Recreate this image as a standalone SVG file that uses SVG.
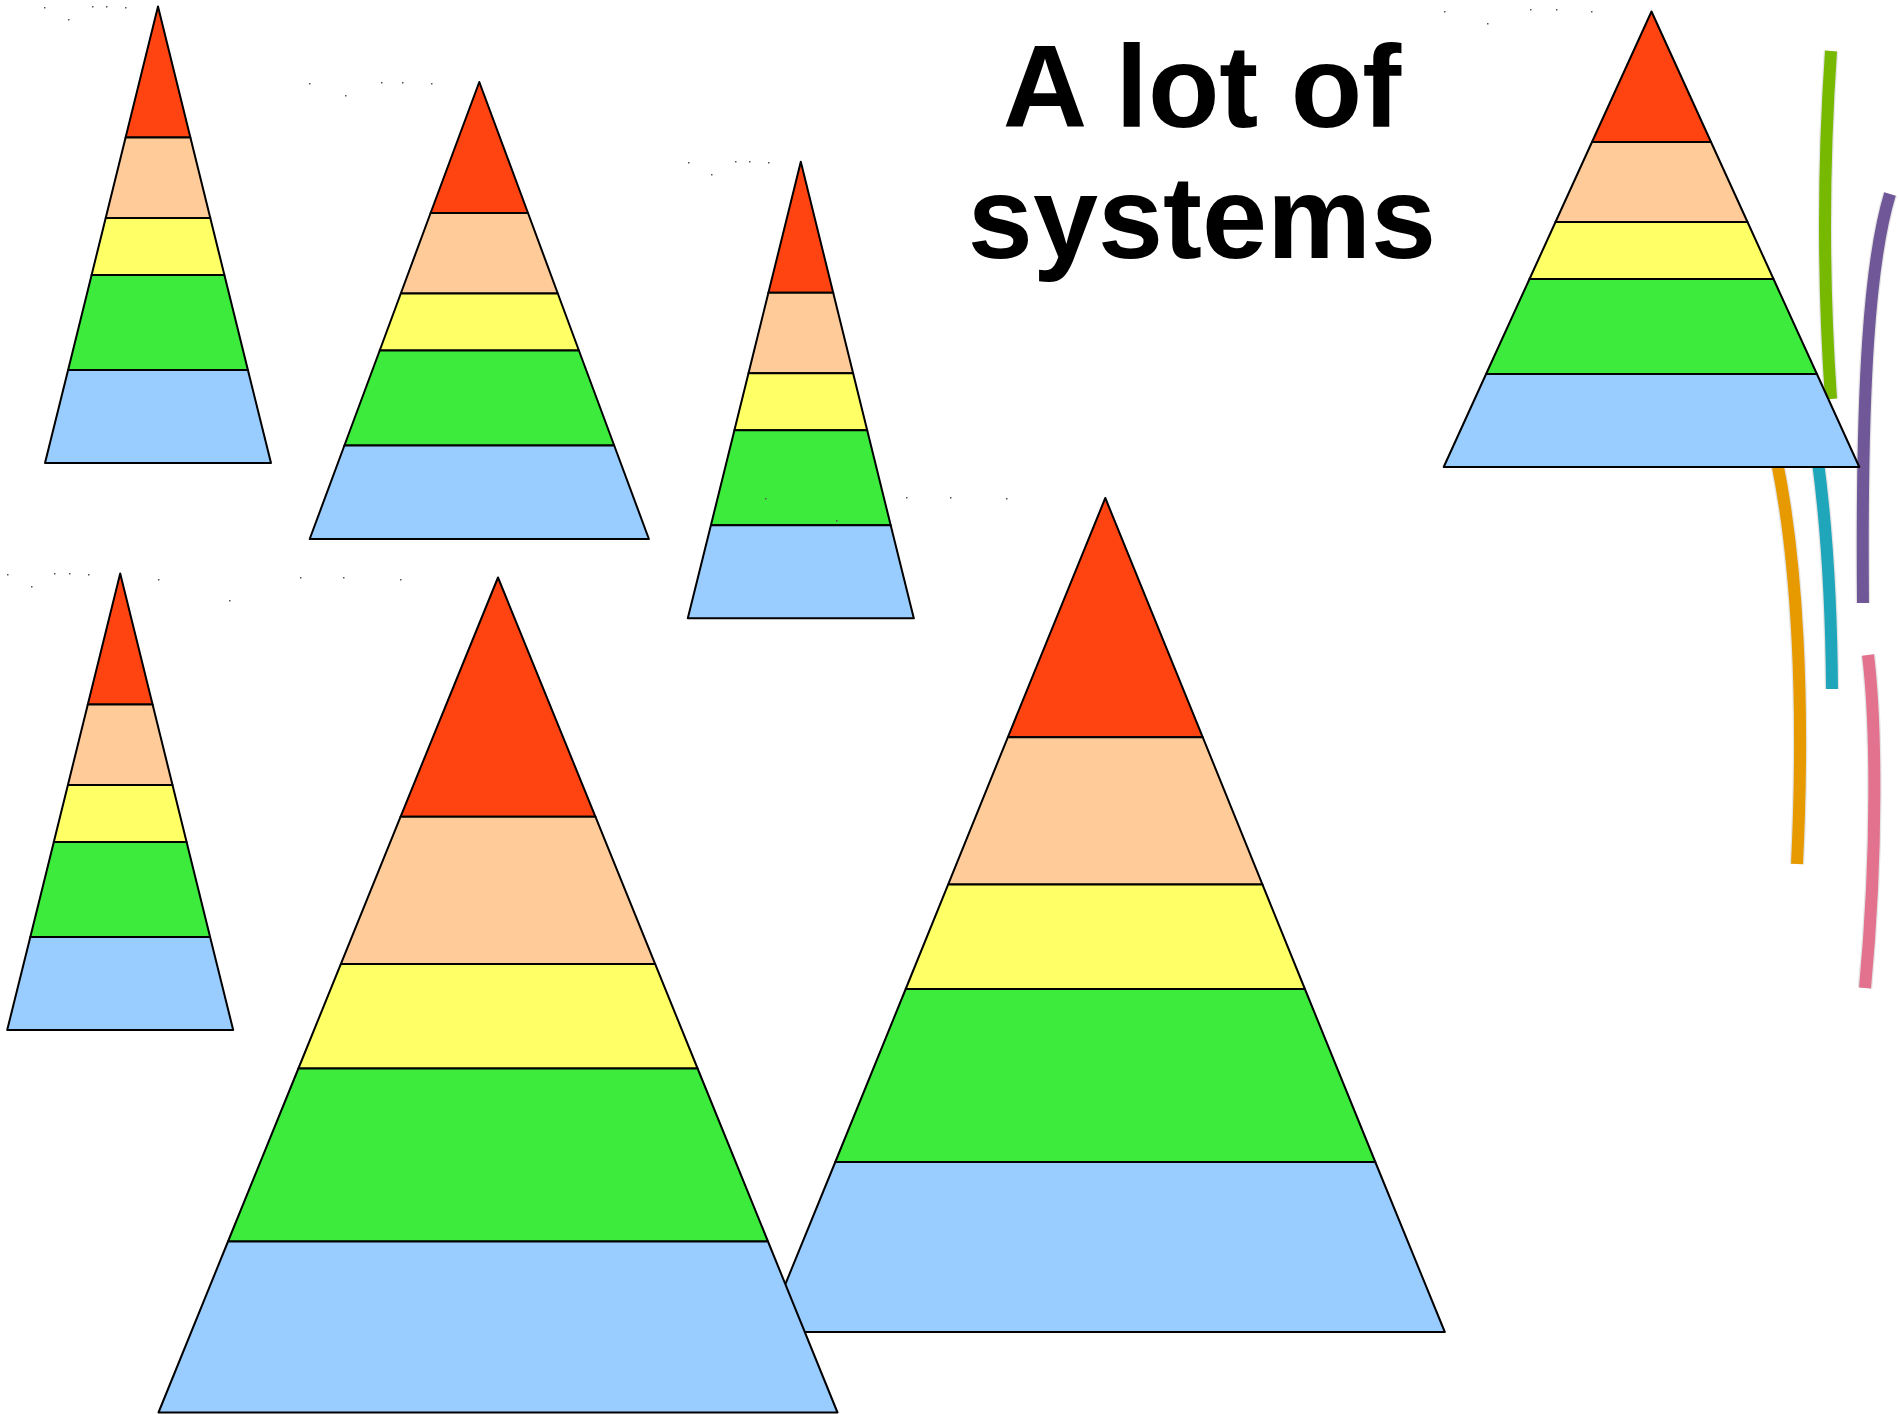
<svg xmlns="http://www.w3.org/2000/svg" width="1898" height="1414" viewBox="0 0 1898 1414">
<style>
.band{stroke:#000;stroke-width:2;stroke-linejoin:round}
.r{fill:#FF4411}.p{fill:#FFCC99}.y{fill:#FFFF66}.g{fill:#3DEB3D}.b{fill:#99CCFF}
.halo{fill:none;stroke:#e4e4e4;stroke-width:14.5}
.arc{fill:none;stroke-width:12}
.title{font-family:"Liberation Sans",Arial,sans-serif;font-weight:bold;font-size:117px;fill:#000;text-anchor:middle}
.speck{fill:#555}
</style>
<rect width="1898" height="1414" fill="#fff"/>

<g id="arcs">
<path class="halo" d="M1831,51 Q1819,225 1831,399"/>
<path class="arc" stroke="#76B900" d="M1831,51 Q1819,225 1831,399"/>
<path class="halo" d="M1890,194 C1870,260 1861,380 1863,603"/>
<path class="arc" stroke="#705898" d="M1890,194 C1870,260 1861,380 1863,603"/>
<path class="halo" d="M1777,462 C1797,560 1805,700 1797,864"/>
<path class="arc" stroke="#E69A00" d="M1777,462 C1797,560 1805,700 1797,864"/>
<path class="halo" d="M1818,462 Q1831,560 1832,689"/>
<path class="arc" stroke="#1FA6BA" d="M1818,462 Q1831,560 1832,689"/>
<path class="halo" d="M1868,655 C1876,720 1878,850 1865,988"/>
<path class="arc" stroke="#E3728E" d="M1868,655 C1876,720 1878,850 1865,988"/>
</g>

<g id="pyramid-1" transform="translate(158,6.5)">
<polygon class="band r" points="0,0 32.4,131 -32.4,131"/>
<polygon class="band p" points="-32.4,131 32.4,131 52.3,211.5 -52.3,211.5"/>
<polygon class="band y" points="-52.3,211.5 52.3,211.5 66.4,268.5 -66.4,268.5"/>
<polygon class="band g" points="-66.4,268.5 66.4,268.5 89.9,363.5 -89.9,363.5"/>
<polygon class="band b" points="-89.9,363.5 89.9,363.5 113,456.5 -113,456.5"/>
</g>

<g id="pyramid-2" transform="translate(479.3,82)">
<polygon class="band r" points="0,0 48.7,131 -48.7,131"/>
<polygon class="band p" points="-48.7,131 48.7,131 78.5,211.5 -78.5,211.5"/>
<polygon class="band y" points="-78.5,211.5 78.5,211.5 99.6,268.5 -99.6,268.5"/>
<polygon class="band g" points="-99.6,268.5 99.6,268.5 134.9,363.5 -134.9,363.5"/>
<polygon class="band b" points="-134.9,363.5 134.9,363.5 169.6,457 -169.6,457"/>
</g>

<g id="pyramid-3" transform="translate(800.8,161.8)">
<polygon class="band r" points="0,0 32.4,131 -32.4,131"/>
<polygon class="band p" points="-32.4,131 32.4,131 52.3,211.5 -52.3,211.5"/>
<polygon class="band y" points="-52.3,211.5 52.3,211.5 66.4,268.5 -66.4,268.5"/>
<polygon class="band g" points="-66.4,268.5 66.4,268.5 89.9,363.5 -89.9,363.5"/>
<polygon class="band b" points="-89.9,363.5 89.9,363.5 113,456.5 -113,456.5"/>
</g>

<g id="pyramid-6" transform="translate(1651.5,11.5)">
<polygon class="band r" points="0,0 59.5,130.5 -59.5,130.5"/>
<polygon class="band p" points="-59.5,130.5 59.5,130.5 96,210.5 -96,210.5"/>
<polygon class="band y" points="-96,210.5 96,210.5 122,267.5 -122,267.5"/>
<polygon class="band g" points="-122,267.5 122,267.5 165.4,362.5 -165.4,362.5"/>
<polygon class="band b" points="-165.4,362.5 165.4,362.5 207.8,455.5 -207.8,455.5"/>
</g>

<g id="pyramid-5" transform="translate(120.2,573.5)">
<polygon class="band r" points="0,0 32.4,131 -32.4,131"/>
<polygon class="band p" points="-32.4,131 32.4,131 52.3,211.5 -52.3,211.5"/>
<polygon class="band y" points="-52.3,211.5 52.3,211.5 66.4,268.5 -66.4,268.5"/>
<polygon class="band g" points="-66.4,268.5 66.4,268.5 89.9,363.5 -89.9,363.5"/>
<polygon class="band b" points="-89.9,363.5 89.9,363.5 113,456.5 -113,456.5"/>
</g>

<g id="pyramid-7" transform="translate(1105.3,498)">
<polygon class="band r" points="0,0 97.5,239.3 -97.5,239.3"/>
<polygon class="band p" points="-97.5,239.3 97.5,239.3 157.2,386.6 -157.2,386.6"/>
<polygon class="band y" points="-157.2,386.6 157.2,386.6 199.6,491 -199.6,491"/>
<polygon class="band g" points="-199.6,491 199.6,491 270,664 -270,664"/>
<polygon class="band b" points="-270,664 270,664 339.5,834 -339.5,834"/>
</g>

<g id="pyramid-4" transform="translate(498,577.5)">
<polygon class="band r" points="0,0 97.5,239.3 -97.5,239.3"/>
<polygon class="band p" points="-97.5,239.3 97.5,239.3 157.2,386.6 -157.2,386.6"/>
<polygon class="band y" points="-157.2,386.6 157.2,386.6 199.6,491 -199.6,491"/>
<polygon class="band g" points="-199.6,491 199.6,491 270,664 -270,664"/>
<polygon class="band b" points="-270,664 270,664 339.5,835 -339.5,835"/>
</g>

<g id="title">
<text class="title" x="1202" y="127">A lot of</text>
<text class="title" x="1202" y="258">systems</text>
</g>

<g id="specks" class="speck">
<rect x="44" y="7" width="1.5" height="1.5"/><rect x="68" y="19" width="1.5" height="1.5"/><rect x="92" y="6" width="1.5" height="1.5"/><rect x="106" y="6" width="1.5" height="1.5"/><rect x="125" y="7" width="1.5" height="1.5"/>
<rect x="309" y="83" width="1.5" height="1.5"/><rect x="345" y="95" width="1.5" height="1.5"/><rect x="381" y="82" width="1.5" height="1.5"/><rect x="402" y="82" width="1.5" height="1.5"/><rect x="431" y="83" width="1.5" height="1.5"/>
<rect x="688" y="162" width="1.5" height="1.5"/><rect x="711" y="174" width="1.5" height="1.5"/><rect x="735" y="161" width="1.5" height="1.5"/><rect x="749" y="161" width="1.5" height="1.5"/><rect x="768" y="162" width="1.5" height="1.5"/>
<rect x="1444" y="11" width="1.5" height="1.5"/><rect x="1487" y="23" width="1.5" height="1.5"/><rect x="1530" y="9" width="1.5" height="1.5"/><rect x="1556" y="9" width="1.5" height="1.5"/><rect x="1591" y="11" width="1.5" height="1.5"/>
<rect x="7" y="574" width="1.5" height="1.5"/><rect x="31" y="586" width="1.5" height="1.5"/><rect x="54" y="573" width="1.5" height="1.5"/><rect x="69" y="573" width="1.5" height="1.5"/><rect x="88" y="574" width="1.5" height="1.5"/>
<rect x="158" y="579" width="1.5" height="1.5"/><rect x="229" y="600" width="1.5" height="1.5"/><rect x="300" y="577" width="1.5" height="1.5"/><rect x="343" y="577" width="1.5" height="1.5"/><rect x="400" y="579" width="1.5" height="1.5"/>
<rect x="765" y="498" width="1.5" height="1.5"/><rect x="836" y="520" width="1.5" height="1.5"/><rect x="906" y="497" width="1.5" height="1.5"/><rect x="950" y="497" width="1.5" height="1.5"/><rect x="1006" y="498" width="1.5" height="1.5"/>
</g>
</svg>
